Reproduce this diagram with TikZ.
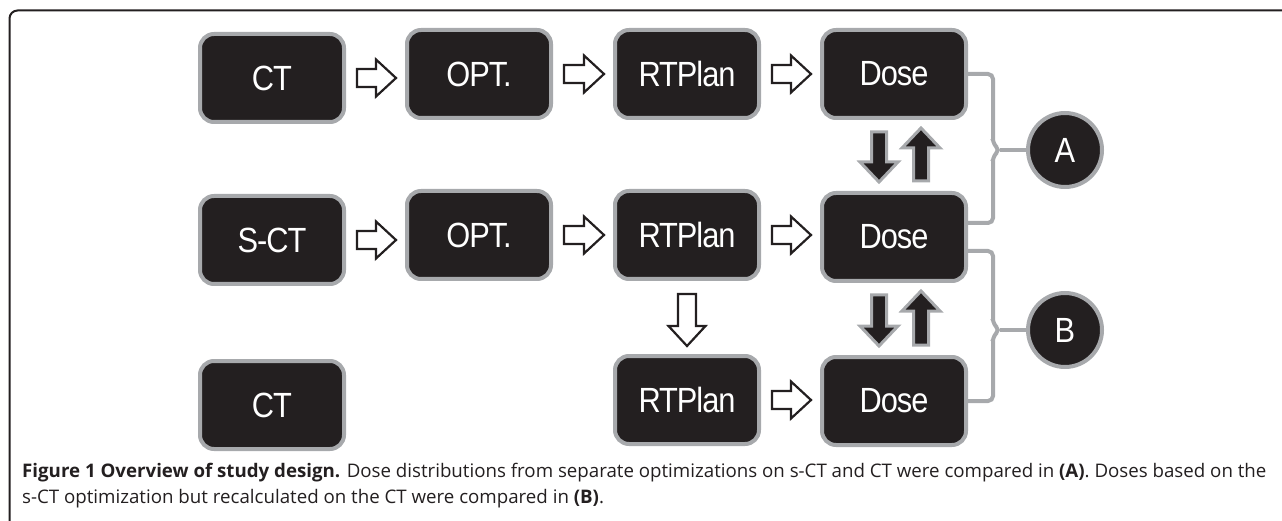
\documentclass[tikz,border=0pt]{standalone}
\usepackage{fontspec}
\setmainfont{Open Sans}
\newfontfamily\boxfont[FakeStretch=0.88,LetterSpace=-3]{Liberation Sans}
\usetikzlibrary{calc}
\definecolor{dk}{HTML}{231F20}
\definecolor{gr}{HTML}{A7A9AC}
\newcommand\harr[2]{\draw[harrow] let \p1=(#1.east), \p2=(#2.west) in
 (\x1+11pt,\y1+9pt) -- (\x2-29pt,\y1+9pt) -- (\x2-29pt,\y1+18.5pt) -- (\x2-9pt,\y1)
 -- (\x2-29pt,\y1-18.5pt) -- (\x2-29pt,\y1-9pt) -- (\x1+11pt,\y1-9pt) -- cycle;}
\newcommand\varr[2]{\draw[harrow] let \p1=(#1.south), \p2=(#2.north) in
 (\x1-9pt,\y1-13pt) -- (\x1-9pt,\y2+28pt) -- (\x1-18.5pt,\y2+28pt) -- (\x1,\y2+8pt)
 -- (\x1+18.5pt,\y2+28pt) -- (\x1+9pt,\y2+28pt) -- (\x1+9pt,\y1-13pt) -- cycle;}
\newcommand\darrpair[2]{%
 \draw[darr] let \p1=(#1.south), \p2=(#2.north) in
 (\x1-22.5pt,\y1-12pt) -- (\x1-22.5pt,\y2+29pt) -- (\x1-34pt,\y2+29pt) -- (\x1-15pt,\y2+9pt)
 -- (\x1+4pt,\y2+29pt) -- (\x1-7.5pt,\y2+29pt) -- (\x1-7.5pt,\y1-12pt) -- cycle;
 \draw[darr] let \p1=(#1.south), \p2=(#2.north) in
 (\x1+19.5pt,\y2+10pt) -- (\x1+19.5pt,\y1-28pt) -- (\x1+8pt,\y1-28pt) -- (\x1+27pt,\y1-8pt)
 -- (\x1+46pt,\y1-28pt) -- (\x1+34.5pt,\y1-28pt) -- (\x1+34.5pt,\y2+10pt) -- cycle;}
\begin{document}
\begin{tikzpicture}[x=1pt,y=-1pt,
  box/.style={draw=gr, line width=4pt, fill=dk, rounded corners=14pt,
    minimum width=144pt, minimum height=88pt, text=white, inner sep=0pt,
    font=\boxfont\fontsize{35}{38}\selectfont},
  circ/.style={circle, draw=gr, line width=4pt, fill=dk, minimum size=74pt,
    text=white, inner sep=0pt, font=\boxfont\fontsize{35}{38}\selectfont},
  harrow/.style={draw=dk, fill=white, line width=2.2pt, line join=miter},
  darr/.style={draw=gr, fill=dk, line width=3pt, line join=miter},
  brk/.style={draw=gr, line width=4pt, rounded corners=5pt},
  captext/.style={anchor=base west, inner sep=0pt, text=dk, font=\fontsize{18.7}{22}\selectfont}]
\useasboundingbox (0,0) rectangle (1282,521);
\draw[dk, line width=2pt, rounded corners=8pt] (9.5,521) -- (9.5,10.5) -- (1282,10.5);
% row 1
\node[box] (ct1) at (272,78) {CT};
\node[box] (opt1) at (479,74) {OPT.};
\node[box] (rt1) at (687,74) {RTPlan};
\node[box] (d1) at (894,74) {Dose};
% row 2
\node[box] (sct) at (272,240) {S-CT};
\node[box] (opt2) at (479,235) {OPT.};
\node[box] (rt2) at (687,235) {RTPlan};
\node[box] (d2) at (894,237) {Dose};
% row 3
\node[box] (ct3) at (272,405) {CT};
\node[box] (rt3) at (687,400) {RTPlan};
\node[box] (d3) at (894,401) {Dose};
% circles
\node[circ] (A) at (1065,150) {A};
\node[circ] (B) at (1065,330) {B};
% arrows
\harr{ct1}{opt1}\harr{opt1}{rt1}\harr{rt1}{d1}
\harr{sct}{opt2}\harr{opt2}{rt2}\harr{rt2}{d2}
\harr{rt3}{d3}
\varr{rt2}{rt3}
\darrpair{d1}{d2}
\darrpair{d2}{d3}
% brackets
\coordinate (jA) at (1000,150);
\coordinate (jB) at (1000,330);
\draw[brk] (d1.east) -- (993,74) -- (993,144) -- (jA) -- (993,156) -- (993,223) -- ($(d2.east)+(0,-14)$);
\draw[brk] (jA) -- (A);
\draw[brk] ($(d2.east)+(0,14)$) -- (993,251) -- (993,324) -- (jB) -- (993,336) -- (993,401) -- (d3.east);
\draw[brk] (jB) -- (B);
% caption
\node[captext] (c1) at (22,477) {\textbf{Figure 1 Overview of study design.} Dose distributions from separate optimizations on s-CT and CT were compared in \textbf{(A)}. Doses based on the};
\node[captext] (c2) at (22,503) {s-CT optimization but recalculated on the CT were compared in \textbf{(B)}.};
\end{tikzpicture}
\end{document}
